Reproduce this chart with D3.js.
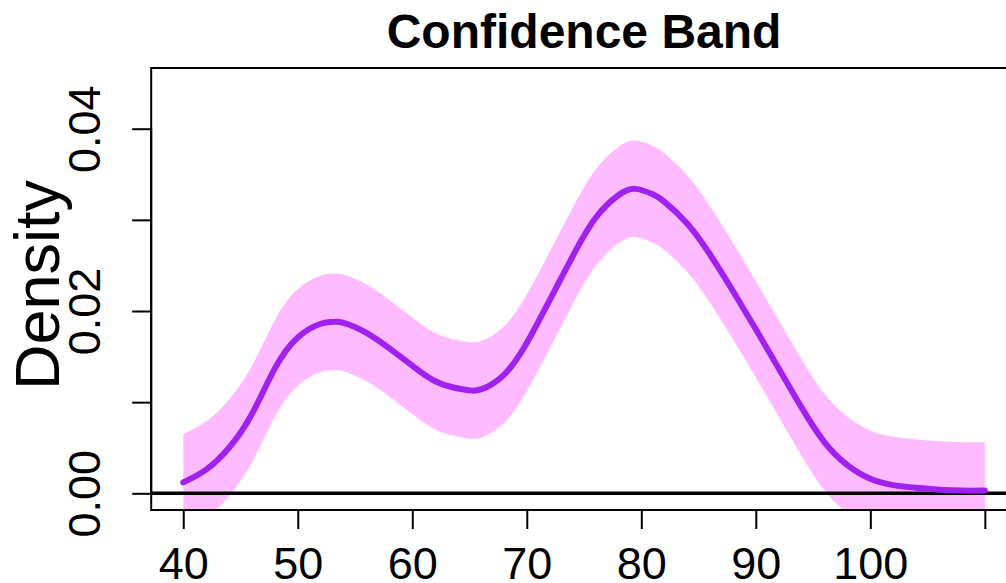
<!DOCTYPE html>
<html>
<head>
<meta charset="utf-8">
<script src="https://cdn.jsdelivr.net/npm/d3@7"></script>
<style>
  html, body { margin: 0; padding: 0; background: #ffffff; }
  svg { display: block; font-family: "Liberation Sans", Arial, Helvetica, sans-serif; }
</style>
</head>
<body>
<svg id="chart" width="1006" height="583"></svg>
<script>
// ---- data ----
const xValues = [40, 42, 44, 46, 48, 50, 52, 53, 54, 56, 58, 60, 62, 64, 65, 66, 68, 70, 72, 74, 76, 78, 79.5, 81, 82, 84, 86, 88, 90, 92, 94, 96, 98, 100, 102, 104, 106, 108, 110];
const density = [0.0012, 0.0026, 0.0050, 0.0087, 0.0137, 0.0171, 0.0186, 0.0188, 0.0187, 0.0176, 0.0159, 0.0140, 0.0123, 0.0115, 0.0113, 0.0114, 0.0130, 0.0165, 0.0212, 0.0260, 0.0302, 0.0327, 0.0334, 0.0328, 0.0320, 0.0296, 0.0262, 0.0222, 0.0180, 0.0137, 0.0094, 0.0056, 0.0031, 0.0016, 0.0009, 0.0006, 0.0004, 0.0003, 0.0003];
const upperBand = [0.0065, 0.0079, 0.0103, 0.0140, 0.0190, 0.0224, 0.0239, 0.0241, 0.0240, 0.0229, 0.0212, 0.0193, 0.0176, 0.0168, 0.0166, 0.0167, 0.0183, 0.0218, 0.0265, 0.0313, 0.0355, 0.0380, 0.0387, 0.0381, 0.0373, 0.0349, 0.0315, 0.0275, 0.0233, 0.0190, 0.0147, 0.0109, 0.0084, 0.0069, 0.0062, 0.0059, 0.0057, 0.0056, 0.0056];
const lowerBand = [-0.0041, -0.0027, -0.0003, 0.0034, 0.0084, 0.0118, 0.0133, 0.0135, 0.0134, 0.0123, 0.0106, 0.0087, 0.0070, 0.0062, 0.0060, 0.0061, 0.0077, 0.0112, 0.0159, 0.0207, 0.0249, 0.0274, 0.0281, 0.0275, 0.0267, 0.0243, 0.0209, 0.0169, 0.0127, 0.0084, 0.0041, 0.0003, -0.0022, -0.0037, -0.0044, -0.0047, -0.0049, -0.0050, -0.0050];
const xTicks = [40, 50, 60, 70, 80, 90, 100, 110];
const xTickLabels = ["40", "50", "60", "70", "80", "90", "100", ""];
const yTicks = [0, 0.01, 0.02, 0.03, 0.04];
const yTickLabels = ["0.00", "", "0.02", "", "0.04"];
const titleText = "Confidence Band";
const yLabelText = "Density";

// ---- layout ----
const box = { left: 151.2, right: 1016.9, top: 68, bottom: 510 };
const svg = d3.select("#chart");

const x = d3.scaleLinear().domain([37.2, 112.8]).range([box.left, box.right]);
const y = d3.scaleLinear().domain([-0.00183, 0.04666]).range([box.bottom, box.top]);

const rows = xValues.map((v, i) => ({ x: v, d: density[i], lo: lowerBand[i], hi: upperBand[i] }));

svg.append("defs").append("clipPath").attr("id", "plotclip")
  .append("rect")
  .attr("x", box.left).attr("y", box.top)
  .attr("width", box.right - box.left).attr("height", box.bottom - box.top);

const plot = svg.append("g").attr("clip-path", "url(#plotclip)");

// confidence band
const area = d3.area()
  .x(r => x(r.x))
  .y0(r => y(r.lo))
  .y1(r => y(r.hi))
  .curve(d3.curveNatural);
plot.append("path").datum(rows)
  .attr("d", area)
  .attr("fill", "#FFBBFF")
  .attr("stroke", "none");

// zero reference line
plot.append("line")
  .attr("x1", box.left).attr("x2", box.right)
  .attr("y1", y(0)).attr("y2", y(0))
  .attr("stroke", "#000").attr("stroke-width", 3.5);

// density curve
const line = d3.line()
  .x(r => x(r.x))
  .y(r => y(r.d))
  .curve(d3.curveNatural);
plot.append("path").datum(rows)
  .attr("d", line)
  .attr("fill", "none")
  .attr("stroke", "#A020F0")
  .attr("stroke-width", 6)
  .attr("stroke-linecap", "round")
  .attr("stroke-linejoin", "round");

// box
svg.append("rect")
  .attr("x", box.left).attr("y", box.top)
  .attr("width", box.right - box.left).attr("height", box.bottom - box.top)
  .attr("fill", "none").attr("stroke", "#000").attr("stroke-width", 2);

// x axis
const xAxis = d3.axisBottom(x)
  .tickValues(xTicks)
  .tickSize(19)
  .tickPadding(16)
  .tickFormat((d, i) => xTickLabels[i]);
const gx = svg.append("g")
  .attr("transform", `translate(0,${box.bottom})`)
  .call(xAxis);
gx.select(".domain")
  .attr("d", `M${x(40)},0H${x(110)}`)
  .attr("stroke", "#000").attr("stroke-width", 2);
gx.selectAll(".tick line").attr("stroke", "#000").attr("stroke-width", 2);
gx.selectAll(".tick text")
  .attr("fill", "#000")
  .attr("font-size", 45)
  .attr("font-family", "Liberation Sans, Arial, sans-serif")
  .attr("dy", null)
  .attr("y", 69);

// y axis
const yAxis = d3.axisLeft(y)
  .tickValues(yTicks)
  .tickSize(19)
  .tickFormat((d, i) => yTickLabels[i]);
const gy = svg.append("g")
  .attr("transform", `translate(${box.left},0)`)
  .call(yAxis);
gy.select(".domain")
  .attr("d", `M0,${y(0)}V${y(0.04)}`)
  .attr("stroke", "#000").attr("stroke-width", 2);
gy.selectAll(".tick line").attr("stroke", "#000").attr("stroke-width", 2);
gy.selectAll(".tick text")
  .attr("fill", "#000")
  .attr("font-size", 45)
  .attr("font-family", "Liberation Sans, Arial, sans-serif")
  .attr("x", null).attr("dy", null)
  .attr("text-anchor", "middle")
  .attr("transform", "translate(-51,0) rotate(-90)");

// y label
svg.append("text")
  .attr("transform", `translate(59,${(box.top + box.bottom) / 2 - 4}) rotate(-90)`)
  .attr("text-anchor", "middle")
  .attr("font-size", 63)
  .attr("fill", "#000")
  .text(yLabelText);

// title
svg.append("text")
  .attr("x", (box.left + box.right) / 2)
  .attr("y", 48)
  .attr("text-anchor", "middle")
  .attr("font-size", 48)
  .attr("font-weight", "bold")
  .attr("fill", "#000")
  .text(titleText);
</script>
</body>
</html>
